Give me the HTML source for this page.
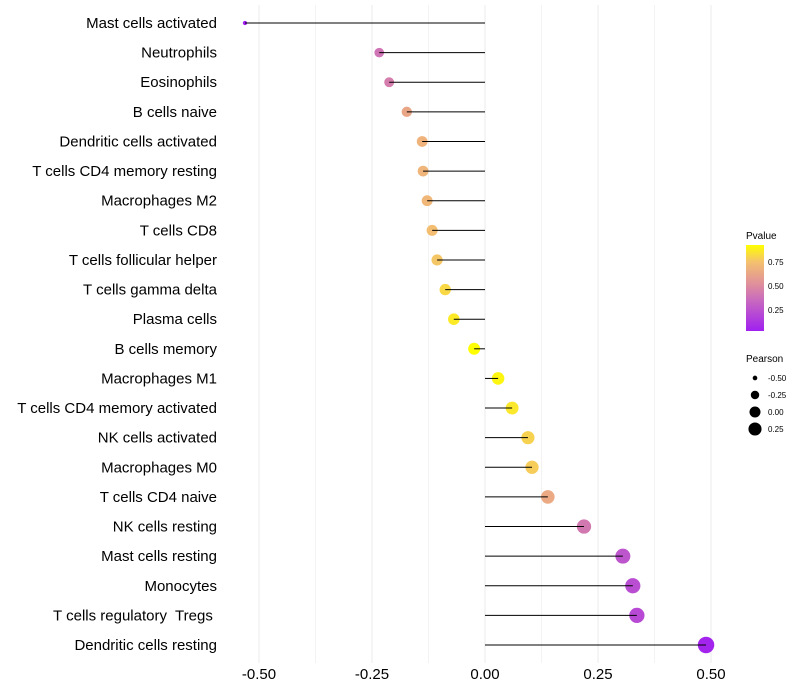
<!DOCTYPE html>
<html><head><meta charset="utf-8"><style>
body{margin:0;background:#fff;}
svg{display:block;font-family:"Liberation Sans",sans-serif;}
text{white-space:pre;}
</style></head><body>
<svg id="chart" width="800" height="700">
<defs><linearGradient id="pg" x1="0" y1="1" x2="0" y2="0">
<stop offset="0" stop-color="#a020f0"/><stop offset="0.35" stop-color="#c868c0"/><stop offset="0.55" stop-color="#e0909a"/><stop offset="0.8" stop-color="#f4c070"/><stop offset="1" stop-color="#ffff00"/></linearGradient></defs>
<g id="grid"></g><g id="marks"></g><g id="labels"></g>
<g>
<text x="746" y="239" font-size="10" fill="#000">Pvalue</text>
<rect x="746" y="245" width="18" height="86" fill="url(#pg)"/>
<g font-size="8" fill="#000">
<text x="768" y="265">0.75</text>
<text x="768" y="289">0.50</text>
<text x="768" y="313">0.25</text>
</g>
<text x="746" y="362" font-size="10" fill="#000">Pearson</text>
<g id="sizeleg"></g>
</g>
</svg>
<script>
const categories=["Mast cells activated","Neutrophils","Eosinophils","B cells naive","Dendritic cells activated","T cells CD4 memory resting","Macrophages M2","T cells CD8","T cells follicular helper","T cells gamma delta","Plasma cells","B cells memory","Macrophages M1","T cells CD4 memory activated","NK cells activated","Macrophages M0","T cells CD4 naive","NK cells resting","Mast cells resting","Monocytes","T cells regulatory  Tregs ","Dendritic cells resting"];
const pearson=[-0.531,-0.234,-0.212,-0.173,-0.139,-0.137,-0.128,-0.117,-0.106,-0.088,-0.069,-0.024,0.029,0.060,0.095,0.104,0.139,0.219,0.305,0.327,0.336,0.489];
const pvalue=[0.03,0.38,0.42,0.6,0.66,0.67,0.68,0.71,0.74,0.8,0.86,0.93,0.9,0.85,0.78,0.76,0.62,0.4,0.25,0.22,0.2,0.05];
const xTicks=[-0.5,-0.25,0,0.25,0.5];
const xTickLabels=["-0.50","-0.25","0.00","0.25","0.50"];
const sizeLegend=[-0.5,-0.25,0,0.25];
const sizeLegendLabels=["-0.50","-0.25","0.00","0.25"];
const NS="http://www.w3.org/2000/svg";
const x=v=>485+v*452;
const y=i=>23+i*(622/21);
const r=v=>1.1*Math.sqrt(Math.max(2,31+51*v));
const stops=[[0.03,[160,32,240]],[0.33,[200,104,192]],[0.5,[224,144,154]],[0.72,[244,192,112]],[0.93,[255,255,0]]];
function col(p){if(p<=stops[0][0])return `rgb(${stops[0][1]})`;for(let k=1;k<stops.length;k++){if(p<=stops[k][0]){const a=stops[k-1],b=stops[k],t=(p-a[0])/(b[0]-a[0]);return `rgb(${a[1].map((c,j)=>Math.round(c+(b[1][j]-c)*t))})`;}}return "rgb(255,255,0)";}
function mk(tag,at,parent){const e=document.createElementNS(NS,tag);for(const k in at)e.setAttribute(k,at[k]);document.getElementById(parent).appendChild(e);return e;}
const grid=[];for(let v=-0.5;v<=0.5001;v+=0.125)grid.push(v);
grid.forEach((v,k)=>{const l=mk("line",{x1:x(v),x2:x(v),y1:5,y2:663,stroke:k%2?"#f3f3f3":"#ebebeb","stroke-width":1},"grid");

});
xTicks.forEach((v,i)=>{const t=mk("text",{x:x(v),y:679,"text-anchor":"middle","font-size":15,fill:"#000"},"labels");t.textContent=xTickLabels[i];

});
categories.forEach((c,i)=>{
const d=mk("circle",{cx:x(pearson[i]),cy:y(i),r:r(pearson[i]),fill:col(pvalue[i])},"marks");


const l=mk("line",{x1:x(0),x2:x(pearson[i]),y1:y(i),y2:y(i),stroke:"#000","stroke-width":1},"marks");


const t=mk("text",{x:217,y:y(i)+5,"text-anchor":"end","font-size":15,fill:"#000"},"labels");t.textContent=c;

});
sizeLegend.forEach((v,i)=>{const cy=378+i*17;
const d=mk("circle",{cx:755,cy:cy,r:r(v)*0.9,fill:"#000"},"sizeleg");


const t=mk("text",{x:768,y:cy+3,"font-size":8,fill:"#000"},"sizeleg");t.textContent=sizeLegendLabels[i];

});
</script>
</body></html>
